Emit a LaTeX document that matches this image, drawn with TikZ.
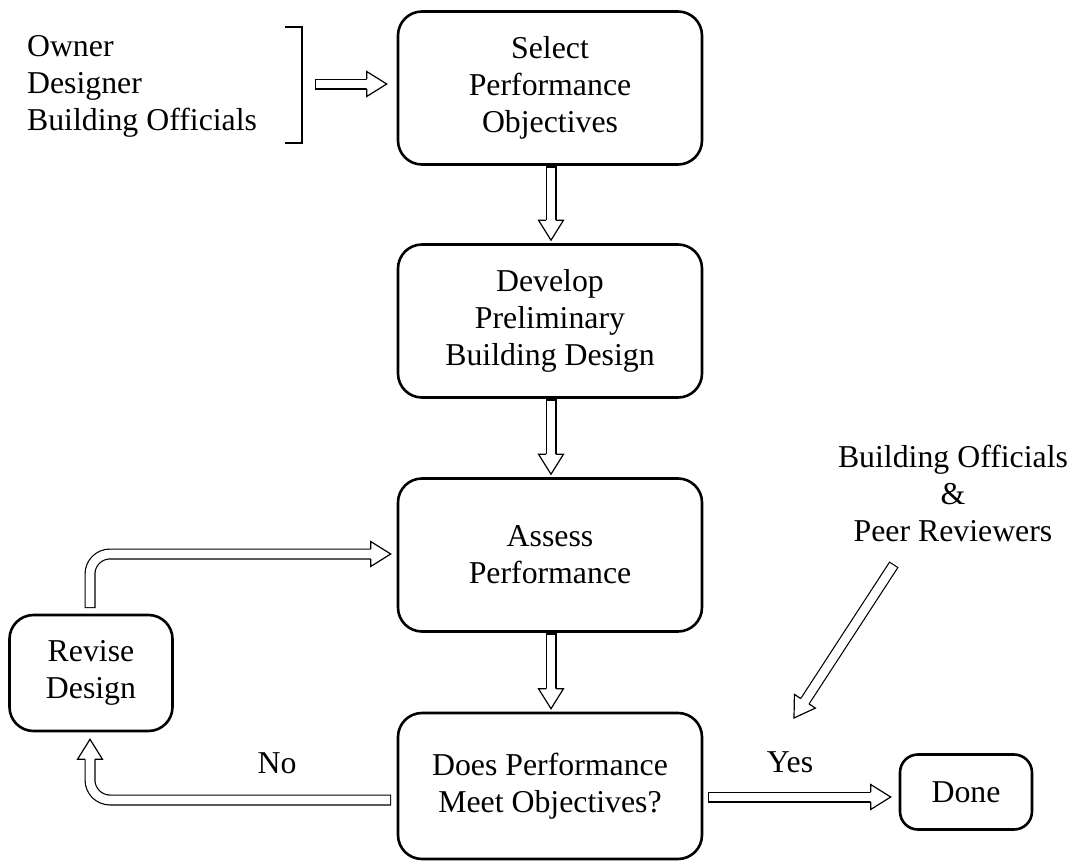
\documentclass[tikz,border=0pt]{standalone}
\usepackage{fontspec}
\setmainfont{Liberation Serif}
\usetikzlibrary{calc}

% open arrow head: #1 = point behind the tip, #2 = tip
\newcommand{\hollowhead}[2]{%
  \filldraw[hhead] ($(#2)!10pt!(#1)!2.45pt!90:(#2)$) -- ($(#2)!10pt!(#1)!6.25pt!90:(#2)$) -- (#2)
    -- ($(#2)!10pt!(#1)!6.25pt!-90:(#2)$) -- ($(#2)!10pt!(#1)!2.45pt!-90:(#2)$);}
\newcommand{\hollowarrow}[2]{%
  \draw[hshaft] (#1) -- ($(#2)!10pt!(#1)$);
  \hollowhead{#1}{#2}}

\begin{document}
\begin{tikzpicture}[x=0.5pt, y=-0.5pt, font={\fontsize{15.9}{18.5}\selectfont},
    box/.style={draw, line width=1.3pt, rounded corners=12pt, align=center, inner sep=0pt},
    hshaft/.style={double, double distance=4.3pt, line width=0.6pt, line cap=rect},
    hhead/.style={draw=black, fill=white, line width=0.6pt, line join=miter}]
    \useasboundingbox (0,0) rectangle (1078,862);

    \node[box, minimum width=152pt, minimum height=76.5pt] (select) at (550,88) {Select\\Performance\\Objectives};
    \node[box, minimum width=152pt, minimum height=76.5pt] (develop) at (550,321) {Develop\\Preliminary\\Building Design};
    \node[box, minimum width=152pt, minimum height=76.5pt] (assess) at (550,555) {Assess\\Performance};
    \node[box, minimum width=152pt, minimum height=73pt] (meet) at (550,786) {Does Performance\\Meet Objectives?};
    \node[box, minimum width=81.5pt, minimum height=58pt] (revise) at (91,673) {Revise\\Design};
    \node[box, minimum width=66pt, minimum height=37.5pt, rounded corners=9pt] (done) at (966,792) {Done};

    \node[align=left, anchor=west] (parties) at (20,86) {Owner\\Designer\\Building Officials};
    \node[align=center] (review) at (953,493) {Building Officials\\\&\\Peer Reviewers};
    \node (no) at (277,763) {No};
    \node (yes) at (790,762) {Yes};

    \draw[line width=1.4pt, line join=miter] (285,27) -- (302,27) -- (302,143) -- (285,143);

    \coordinate (in-tail) at (320,84);
    \coordinate (in-tip) at ($(select.west)+(-10,-4)$);
    \coordinate (t1) at ($(select.south)+(1,6)$);   \coordinate (h1) at ($(develop.north)+(1,-3)$);
    \coordinate (t2) at ($(develop.south)+(1,6)$);  \coordinate (h2) at ($(assess.north)+(1,-3)$);
    \coordinate (t3) at ($(assess.south)+(1,6)$);   \coordinate (h3) at ($(meet.north)+(1,-3)$);
    \coordinate (yes-tail) at ($(meet.east)+(10,11)$);
    \coordinate (yes-tip) at ($(done.west)+(-8,5)$);
    \coordinate (rev-tail) at (891,569);
    \coordinate (rev-tip) at (794,718);
    \coordinate (no-tail) at ($(meet.west)+(-11,14)$);
    \coordinate (no-tip) at ($(revise.south)+(-1,7)$);
    \coordinate (no-base) at ($(no-tip)+(0,20)$);
    \coordinate (rv-tail) at ($(revise.north)+(-1,-11)$);
    \coordinate (rv-tip) at ($(assess.west)+(-6,-1)$);
    \coordinate (rv-base) at ($(rv-tip)+(-20,0)$);

    \hollowarrow{in-tail}{in-tip}
    \hollowarrow{t1}{h1} \hollowarrow{t2}{h2} \hollowarrow{t3}{h3}
    \hollowarrow{yes-tail}{yes-tip}
    \hollowarrow{rev-tail}{rev-tip}
    \draw[hshaft, rounded corners=10pt] (no-tail) -| (no-base); \hollowhead{no-base}{no-tip}
    \draw[hshaft, rounded corners=10pt] (rv-tail) |- (rv-base); \hollowhead{rv-base}{rv-tip}
\end{tikzpicture}
\end{document}
